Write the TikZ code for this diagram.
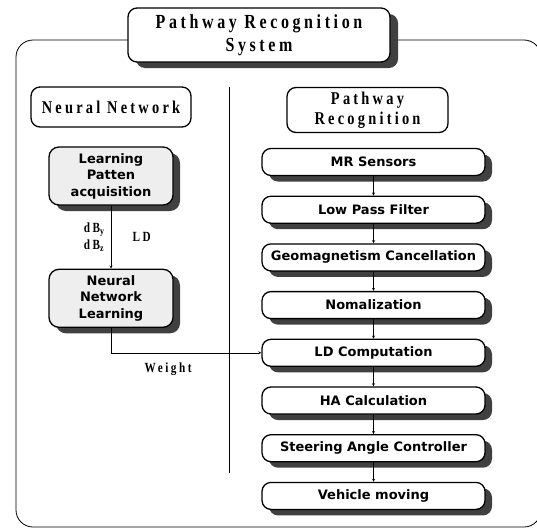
\documentclass[tikz,border=0pt]{standalone}
\usepackage{fontspec}
\usepackage{tikz}
\usetikzlibrary{arrows,shadows,positioning}
\setmainfont{Liberation Serif}
\newfontfamily\hdrfont[LetterSpace=18,FakeStretch=0.8]{Liberation Serif}
\newfontfamily\stagefont{DejaVu Sans}
\tikzset{
  hdr/.style={draw,line width=1.3pt,rounded corners=9pt,fill=white,align=center,
    font=\hdrfont\bfseries\fontsize{18}{20}\selectfont},
  stage/.style={draw,line width=1.3pt,rounded corners=9pt,fill=white,
    minimum width=223pt,minimum height=27pt,inner sep=1pt,align=center,
    font=\stagefont\bfseries\fontsize{13}{16.5}\selectfont,
    drop shadow={fill=black!75,opacity=1,shadow xshift=7pt,shadow yshift=-6pt}},
  learnbox/.style={stage,fill=gray!13,rounded corners=10pt,minimum width=124pt,minimum height=58pt},
  lbl/.style={font=\hdrfont\bfseries\fontsize{14}{17}\selectfont}
}

\begin{document}
\begin{tikzpicture}[x=1pt,y=-1pt,>=stealth]
    \useasboundingbox (0,0) rectangle (537,530);
    % outer frame and divider
    \draw[line width=0.8pt,rounded corners=17pt] (16,40) rectangle (541,527);
    \draw[line width=1pt] (229,87) -- (229,473);
    % headers
    \node[hdr,minimum width=262pt,minimum height=54pt,
      font=\hdrfont\bfseries\fontsize{20}{23}\selectfont,
      drop shadow={fill=black!75,opacity=1,shadow xshift=8pt,shadow yshift=-6pt}]
      (sys) at (259,35) {Pathway Recognition\\System};
    \node[hdr,minimum width=160pt,minimum height=40pt] (nn) at (111,107) {Neural Network};
    \node[hdr,minimum width=161pt,minimum height=45pt] (pr) at (367.5,110) {Pathway\\Recognition};
    % neural network side
    \node[learnbox] (learn) at (111,176) {Learning\\Patten\\acquisition};
    \node[learnbox,below=63pt of learn] (nnl) {Neural\\Network\\Learning};
    \draw[->] (learn) -- node[left=3pt,lbl,align=left]{dB\textsubscript{y}\\dB\textsubscript{z}}
      node[right=18pt,lbl]{LD} (nnl);
    % pathway recognition chain
    \node[stage] (mr) at (373.5,162) {MR Sensors};
    \node[stage,below=19.4pt of mr] (lpf) {Low Pass Filter};
    \node[stage,below=19.4pt of lpf] (geo) {Geomagnetism Cancellation};
    \node[stage,below=19.4pt of geo] (nom) {Nomalization};
    \node[stage,below=19.4pt of nom] (ld) {LD Computation};
    \node[stage,below=19.4pt of ld] (ha) {HA Calculation};
    \node[stage,below=19.4pt of ha] (sac) {Steering Angle Controller};
    \node[stage,below=19.4pt of sac] (veh) {Vehicle moving};
    \foreach \a/\b in {mr/lpf,lpf/geo,geo/nom,nom/ld,ld/ha,ha/sac,sac/veh}
      \draw[->] (\a) -- (\b);
    \draw[->] (nnl.south) |- node[pos=0.69,below=6pt,lbl]{Weight} (ld.west);
\end{tikzpicture}
\end{document}
